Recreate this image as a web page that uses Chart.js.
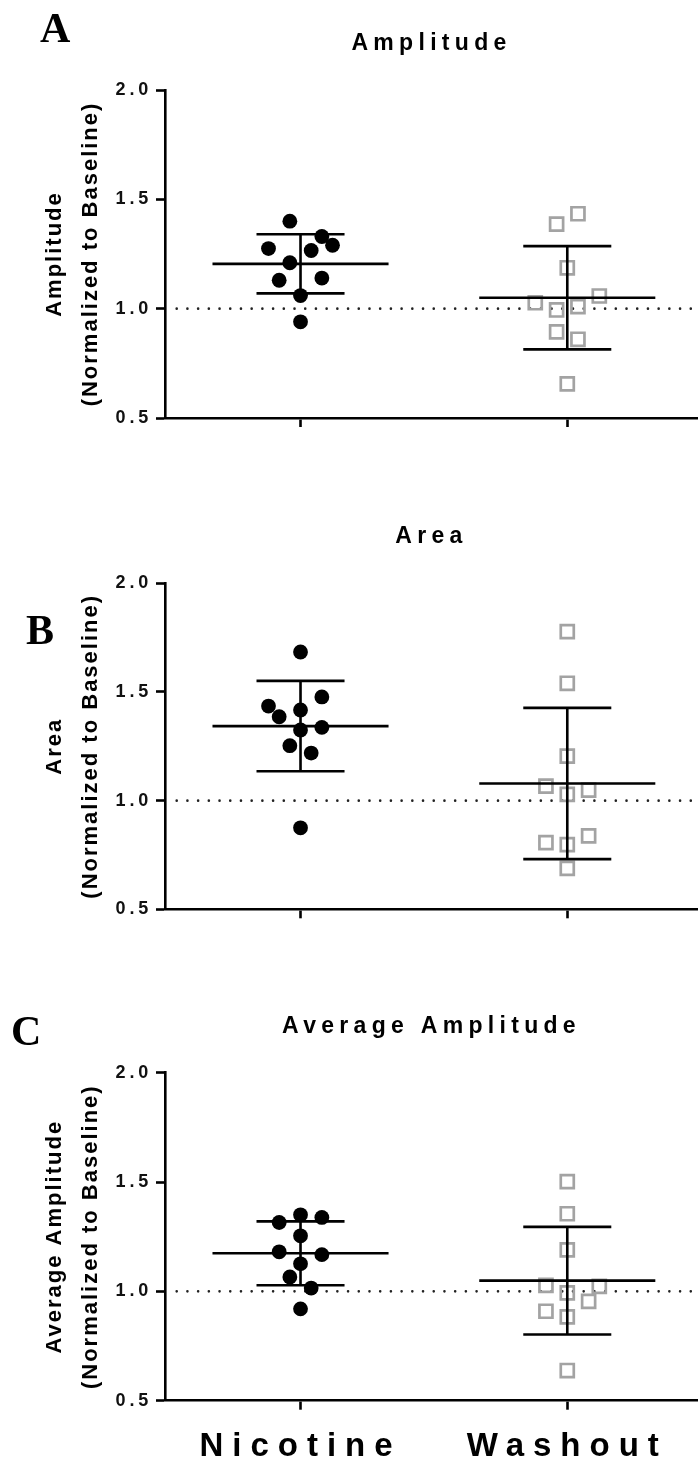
<!DOCTYPE html>
<html>
<head>
<meta charset="utf-8">
<script src="https://cdn.jsdelivr.net/npm/chart.js@4.4.1/dist/chart.umd.min.js"></script>
<style>
  html, body { margin: 0; padding: 0; background: #fff; }
  #page { position: relative; width: 698px; height: 1467px; overflow: hidden; background: #fff; }
  #page canvas { position: absolute; left: 0; }
  .panel-letter { position: absolute; font-family: "Liberation Serif", "Times New Roman", serif; font-weight: bold; font-size: 42px; line-height: 42px; color: #000; }
</style>
</head>
<body>
<div id="page">
  <canvas id="cA" width="698" height="470" style="top:0px"></canvas>
  <canvas id="cB" width="698" height="470" style="top:470px"></canvas>
  <canvas id="cC" width="698" height="527" style="top:940px"></canvas>
  <div class="panel-letter" style="left:40px;top:7px">A</div>
  <div class="panel-letter" style="left:26px;top:609px">B</div>
  <div class="panel-letter" style="left:11px;top:1010px">C</div>
</div>
<script>
// ---------------- data ----------------
const categories = ['Nicotine', 'Washout'];
const yTickValues = [0.5, 1.0, 1.5, 2.0];
const baselineValue = 1.0;

// Panel A - Amplitude
const ampNicotine    = [1.40, 1.33, 1.29, 1.275, 1.266, 1.21, 1.13, 1.14, 1.06, 0.94];
const ampNicotineCol = [-1, 2, 3, -3, 1, -1, -2, 2, 0, 0];
const ampWashout     = [1.434, 1.387, 1.187, 1.058, 1.027, 1.009, 0.994, 0.894, 0.86, 0.656];
const ampWashoutCol  = [1, -1, 0, 3, -3, 1, -1, -1, 1, 0];
const ampMean = [1.205, 1.05];
const ampSD   = [0.135, 0.236];

// Panel B - Area
const areaNicotine    = [1.684, 1.477, 1.435, 1.417, 1.386, 1.325, 1.337, 1.253, 1.219, 0.875];
const areaNicotineCol = [0, 2, -3, 0, -2, 0, 2, -1, 1, 0];
const areaWashout     = [1.778, 1.54, 1.205, 1.067, 1.029, 1.048, 0.838, 0.807, 0.798, 0.688];
const areaWashoutCol  = [0, 0, 0, -2, 0, 2, 2, -2, 0, 0];
const areaMean = [1.343, 1.079];
const areaSD   = [0.208, 0.348];

// Panel C - Average Amplitude
const avgNicotine    = [1.35, 1.315, 1.338, 1.254, 1.181, 1.168, 1.126, 1.066, 1.015, 0.92];
const avgNicotineCol = [0, -2, 2, 0, -2, 2, 0, -1, 1, 0];
const avgWashout     = [1.502, 1.355, 1.19, 1.027, 1.023, 0.993, 0.954, 0.909, 0.883, 0.638];
const avgWashoutCol  = [0, 0, 0, -2, 3, 0, 2, -2, 0, 0];
const avgMean = [1.174, 1.049];
const avgSD   = [0.146, 0.246];

// ---------------- text spacing (Prism-like wide lettering) ----------------
const LETTER_SPACING = {18: 3.8, 22: 2, 23: 5.3, 33: 9};
(function () {
  const P = CanvasRenderingContext2D.prototype;
  const fill = P.fillText, measure = P.measureText;
  const apply = (ctx) => {
    const m = /(\d+(?:\.\d+)?)px/.exec(ctx.font);
    const s = m ? LETTER_SPACING[Math.round(parseFloat(m[1]))] : 0;
    try { ctx.letterSpacing = (s || 0) + 'px'; } catch (e) {}
  };
  P.fillText = function () { apply(this); return fill.apply(this, arguments); };
  P.measureText = function () { apply(this); return measure.apply(this, arguments); };
})();

// ---------------- styling ----------------
const FONT = '"Liberation Sans", Arial, Helvetica, sans-serif';
const JITTER_STEP = 0.04;
const X_MIN = 0.492, X_MAX = 2.49;

const baselinePlugin = {
  id: 'baseline',
  beforeDatasetsDraw(chart, args, opts) {
    const {ctx, chartArea, scales: {y}} = chart;
    const py = y.getPixelForValue(opts.value);
    ctx.save();
    ctx.strokeStyle = '#222';
    ctx.lineWidth = 2.6;
    ctx.lineCap = 'round';
    ctx.setLineDash([0.01, 10.7]);
    ctx.beginPath();
    ctx.moveTo(chartArea.left + 11.7, py);
    ctx.lineTo(chartArea.right, py);
    ctx.stroke();
    ctx.restore();
  }
};

const meanSdPlugin = {
  id: 'meanSd',
  afterDatasetsDraw(chart, args, opts) {
    const {ctx, scales: {x, y}} = chart;
    ctx.save();
    ctx.strokeStyle = '#000';
    ctx.lineWidth = 2.6;
    ctx.lineCap = 'butt';
    opts.mean.forEach((m, i) => {
      const cx = x.getPixelForValue(i + 1);
      const half = x.getPixelForValue(i + 1 + 0.33) - cx;
      const cap = x.getPixelForValue(i + 1 + 0.165) - cx;
      const yM = y.getPixelForValue(m);
      const yU = y.getPixelForValue(m + opts.sd[i]);
      const yL = y.getPixelForValue(m - opts.sd[i]);
      ctx.beginPath();
      ctx.moveTo(cx - half, yM); ctx.lineTo(cx + half, yM);
      ctx.moveTo(cx - cap, yU); ctx.lineTo(cx + cap, yU);
      ctx.moveTo(cx - cap, yL); ctx.lineTo(cx + cap, yL);
      ctx.moveTo(cx, yU); ctx.lineTo(cx, yL);
      ctx.stroke();
    });
    ctx.restore();
  }
};

function points(values, cols, catIndex) {
  return values.map((v, k) => ({x: catIndex + 1 + cols[k] * JITTER_STEP, y: v}));
}

const panels = [
  {id: 'cA', title: 'Amplitude', yTitle: ['Amplitude', '(Normalized to Baseline)'],
   nic: ampNicotine, nicCol: ampNicotineCol, wash: ampWashout, washCol: ampWashoutCol,
   mean: ampMean, sd: ampSD, canvasTop: 0, canvasH: 470, areaTop: 90, areaBottom: 418, titleY: 44, showX: false},
  {id: 'cB', title: 'Area', yTitle: ['Area', '(Normalized to Baseline)'],
   nic: areaNicotine, nicCol: areaNicotineCol, wash: areaWashout, washCol: areaWashoutCol,
   mean: areaMean, sd: areaSD, canvasTop: 470, canvasH: 470, areaTop: 583.3, areaBottom: 909.3, titleY: 537, showX: false},
  {id: 'cC', title: 'Average Amplitude', yTitle: ['Average Amplitude', '(Normalized to Baseline)'],
   nic: avgNicotine, nicCol: avgNicotineCol, wash: avgWashout, washCol: avgWashoutCol,
   mean: avgMean, sd: avgSD, canvasTop: 940, canvasH: 527, areaTop: 1072.7, areaBottom: 1400.7, titleY: 1026.5, showX: true}
];

panels.forEach(p => {
  const titleSize = 23, titleLH = 1.2;
  const half = titleSize * titleLH / 2;
  const padTop = p.titleY - p.canvasTop - half;
  const padBottom = p.areaTop - p.titleY - half;
  const xHeight = p.canvasH - (p.areaBottom - p.canvasTop);

  new Chart(document.getElementById(p.id), {
    type: 'scatter',
    data: {
      datasets: [
        {label: categories[0], data: points(p.nic, p.nicCol, 0),
         pointStyle: 'circle', pointRadius: 7.4, pointHoverRadius: 7.4,
         backgroundColor: '#000', borderColor: '#000', borderWidth: 0},
        {label: categories[1], data: points(p.wash, p.washCol, 1),
         pointStyle: 'rect', pointRadius: 9.2, pointHoverRadius: 9.2,
         backgroundColor: 'rgba(0,0,0,0)', borderColor: '#a3a3a3', borderWidth: 2.7}
      ]
    },
    options: {
      responsive: false,
      animation: false,
      devicePixelRatio: 1,
      layout: {autoPadding: false, padding: {top: 0, right: 0, bottom: 0, left: 0}},
      plugins: {
        legend: {display: false},
        tooltip: {enabled: false},
        title: {
          display: true, text: p.title, fullSize: false, color: '#000',
          font: {family: FONT, size: titleSize, weight: 'bold', lineHeight: titleLH},
          padding: {top: padTop, bottom: padBottom}
        },
        baseline: {value: baselineValue},
        meanSd: {mean: p.mean, sd: p.sd}
      },
      scales: {
        x: {
          type: 'linear', min: X_MIN, max: X_MAX,
          afterBuildTicks: (s) => { s.ticks = categories.map((c, i) => ({value: i + 1})); },
          afterFit: (s) => { s.height = xHeight; },
          ticks: {
            autoSkip: false, maxRotation: 0, minRotation: 0, padding: 17.5, color: '#000',
            font: {family: FONT, size: 33, weight: 'bold', lineHeight: 1.2},
            callback: (v, i) => p.showX ? categories[i] : ''
          },
          grid: {display: true, drawOnChartArea: false, drawTicks: true, tickLength: 9, tickWidth: 2.6, color: '#000'},
          border: {display: true, color: '#000', width: 2.6}
        },
        y: {
          type: 'linear', min: 0.5, max: 2.0,
          afterBuildTicks: (s) => { s.ticks = yTickValues.map(v => ({value: v})); },
          afterFit: (s) => { s.width = 165; },
          ticks: {
            padding: 4, color: '#111',
            font: {family: FONT, size: 18, weight: 'bold'},
            callback: (v) => Number(v).toFixed(1)
          },
          grid: {display: true, drawOnChartArea: false, drawTicks: true, tickLength: 9, tickWidth: 2.6, color: '#000'},
          border: {display: true, color: '#000', width: 2.6},
          title: {
            display: true, text: p.yTitle, color: '#000',
            font: {family: FONT, size: 22, weight: 'bold', lineHeight: 1.64},
            padding: {top: 37, bottom: 0}
          }
        }
      }
    },
    plugins: [baselinePlugin, meanSdPlugin]
  });
});
</script>
</body>
</html>
